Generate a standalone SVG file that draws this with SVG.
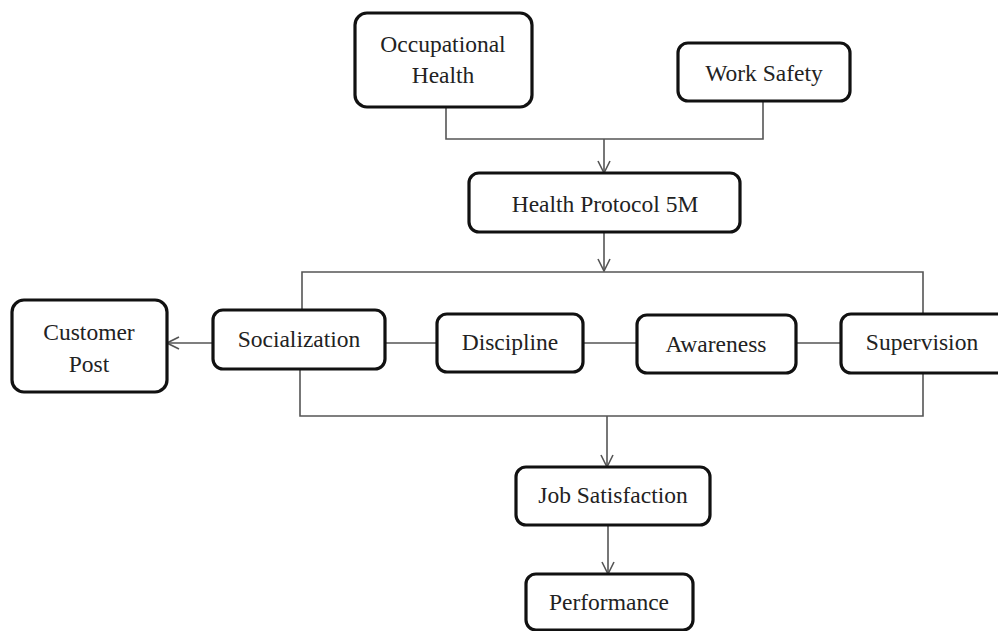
<svg xmlns="http://www.w3.org/2000/svg" width="998" height="631" viewBox="0 0 998 631">
<defs>
<style>
.box{fill:#fff;stroke:#111;stroke-width:3.2}
.lbl{font-family:"Liberation Serif","Times New Roman",serif;font-size:23.5px;fill:#222;text-anchor:middle}
.con{fill:none;stroke:#555;stroke-width:1.6}
</style>
<marker id="arr" viewBox="0 0 14 14" refX="13" refY="7" markerWidth="14" markerHeight="14" markerUnits="userSpaceOnUse" orient="auto">
<path d="M1,1 L13,7 L1,13" fill="none" stroke="#555" stroke-width="1.6"/>
</marker>
</defs>
<rect width="998" height="631" fill="#fff"/>
<g id="connectors">
<path class="con" d="M446,107 V139 H763 V101"/>
<path class="con" d="M604,139 V173" marker-end="url(#arr)"/>
<path class="con" d="M604,232 V271" marker-end="url(#arr)"/>
<path class="con" d="M302,310 V272 H923 V315"/>
<path class="con" d="M213,343 H167" marker-end="url(#arr)"/>
<path class="con" d="M385,343 H437"/>
<path class="con" d="M583,343 H637"/>
<path class="con" d="M796,343 H841"/>
<path class="con" d="M300,369 V416 H923 V373"/>
<path class="con" d="M607,416 V467" marker-end="url(#arr)"/>
<path class="con" d="M608,525 V574" marker-end="url(#arr)"/>
</g>
<g id="occupational-health">
<rect class="box" x="355" y="13" width="177" height="94" rx="12"/>
<text class="lbl" x="443" y="52">Occupational</text>
<text class="lbl" x="443" y="83">Health</text>
</g>
<g id="work-safety">
<rect class="box" x="678" y="43" width="172" height="58" rx="10"/>
<text class="lbl" x="764" y="81">Work Safety</text>
</g>
<g id="health-protocol">
<rect class="box" x="469" y="173" width="271" height="59" rx="10"/>
<text class="lbl" x="605" y="212">Health Protocol 5M</text>
</g>
<g id="customer-post">
<rect class="box" x="12" y="300" width="155" height="92" rx="12"/>
<text class="lbl" x="89" y="340">Customer</text>
<text class="lbl" x="89" y="372">Post</text>
</g>
<g id="socialization">
<rect class="box" x="213" y="310" width="172" height="59" rx="10"/>
<text class="lbl" x="299" y="347">Socialization</text>
</g>
<g id="discipline">
<rect class="box" x="437" y="314" width="146" height="58" rx="10"/>
<text class="lbl" x="510" y="350">Discipline</text>
</g>
<g id="awareness">
<rect class="box" x="637" y="315" width="159" height="58" rx="10"/>
<text class="lbl" x="716" y="352">Awareness</text>
</g>
<g id="supervision">
<rect class="box" x="841" y="314" width="170" height="59" rx="10"/>
<text class="lbl" x="922" y="350">Supervision</text>
</g>
<g id="job-satisfaction">
<rect class="box" x="516" y="467" width="194" height="58" rx="10"/>
<text class="lbl" x="613" y="503">Job Satisfaction</text>
</g>
<g id="performance">
<rect class="box" x="526" y="574" width="167" height="56" rx="10"/>
<text class="lbl" x="609" y="610">Performance</text>
</g>
</svg>
